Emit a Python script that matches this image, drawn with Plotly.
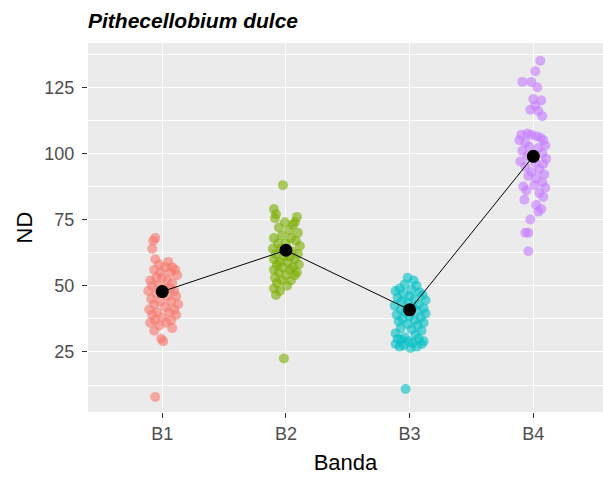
import plotly.graph_objects as go

categories = ["B1", "B2", "B3", "B4"]
colors = ["#F8766D", "#7CAE00", "#00BFC4", "#C77CFF"]

# jitter (horizontal offsets, in 1/124 of a category step) and ND values per band
b1_jit = [-7, -9, -10, -7, 6, -3, 10, 13, 3, -8, -2, 8, 15, -12, -6, 0, 5, 10, -10, -4, 2, 8, -14, 12, -6,
          5, 14, -11, -2, 9, 16, -8, 3, 12, -13, -5, 7, -10, 14, 0, -7, 9, -12, 4, -3, 10, -8, -1, 1, -7]
b1_nd = [68, 67, 64, 60, 59, 58, 57, 56, 57, 56, 55, 55, 54, 52, 53, 53, 52, 51, 50, 50, 49, 49, 48, 48, 47,
         46, 46, 45, 44, 44, 43, 43, 42, 41, 41, 40, 40, 39, 39, 38, 37, 37, 36, 36, 35, 34, 33, 30, 29, 8]

b2_jit = [-3, -12, -10, -11, 11, 9, -1, 7, -7, 3, 12, -12, -4, 5, 10, -8, 0, 14, -13, -5, 6, 12, -10, -2,
          4, 9, -12, -6, 2, 13, -9, 7, -3, -12, 4, 11, -7, 0, 9, -11, -4, 5, -9, 1, -12, -6, -10, -2]
b2_nd = [88, 79, 77, 75.5, 76, 74, 74, 73, 72, 71, 70, 68, 69, 68, 67, 66, 66, 65, 64, 64, 63, 62, 62, 61,
         61, 60, 60, 59, 59, 58, 58, 57, 57, 56, 56, 55, 55, 54, 54, 53, 52, 52, 51, 50, 49, 48, 46.5, 22.5]

b3_jit = [-2, 4, -5, 7, -10, 2, -14, 10, -6, 13, 0, -12, 5, 16, -8, -2, 9, -15, 3, 14, -9, 7, -4, 16, -13,
          0, 11, -7, 5, -11, 14, -2, 8, -9, 2, 12, -14, 6, -5, -12, -8, -1, 3, 9, 12, -14, -6, 7, -10, 1, 14, -4]
b3_nd = [53, 52, 50.5, 50, 49, 48.5, 48, 47.5, 47, 46.5, 46, 45.5, 45, 44.5, 44, 43.5, 43, 42.5, 42, 41.5,
         41, 40.5, 40, 39.5, 39, 38.5, 38, 37.5, 37, 36.5, 36, 35.5, 35, 34, 33.5, 33, 32, 31.5, 30.5, 30,
         29.5, 29, 28.5, 30, 28, 28, 27.5, 27, 27, 26.5, 29, 11]

b4_jit = [7, 2, -11, -2, 4, 0, 8, 2, -3, 5, 9, -12, -6, -2, 3, 7, 10, -14, -8, 12, -4, 5, -11, 9, -6, 13,
          -13, 2, 10, -8, 6, -2, 11, -5, 3, 9, -10, 1, 12, -7, 6, 10, -9, 3, 8, 5, -3, -5, -8, -5]
b4_nd = [135, 131, 127, 127, 125, 120.5, 120, 118, 116.5, 116, 114, 107, 107.5, 107, 106.5, 106, 105, 105,
         104, 103, 102.5, 102, 101, 100, 99, 98, 97, 96.5, 96, 95, 94, 93, 92, 91.5, 90.5, 89, 87.5, 88, 87,
         86, 85, 83.5, 82.5, 80.5, 79, 78, 75, 70, 70, 63]

means = [47.8, 63.4, 40.9, 98.9]

jits = [b1_jit, b2_jit, b3_jit, b4_jit]
vals = [b1_nd, b2_nd, b3_nd, b4_nd]
STEP = 124.0

fig = go.Figure()
for i, (cat, jit, v) in enumerate(zip(categories, jits, vals)):
    fig.add_trace(go.Scatter(
        x=[i + 1 + j / STEP for j in jit], y=v, mode="markers", name=cat,
        marker=dict(color=colors[i], size=10, opacity=0.6, line=dict(width=0)),
        showlegend=False, hoverinfo="y"))

fig.add_trace(go.Scatter(
    x=[1, 2, 3, 4], y=means, mode="lines+markers",
    line=dict(color="black", width=1),
    marker=dict(color="black", size=13, symbol="circle"),
    showlegend=False))

fig.update_layout(
    width=603, height=478,
    margin=dict(l=88, r=0, t=43, b=66),
    paper_bgcolor="white", plot_bgcolor="#EBEBEB",
    font=dict(family="Liberation Sans, Arial, sans-serif"),
    title=dict(text="Pithecellobium dulce", x=88 / 603, xref="container", xanchor="left",
               y=1 - 21 / 478, yref="container", yanchor="middle",
               font=dict(size=21, color="black", weight="bold", style="italic")),
    xaxis=dict(range=[0.4, 0.4 + 515 / 123.7], tickvals=[1, 2, 3, 4], ticktext=categories,
               showgrid=True, gridcolor="white", gridwidth=1.3, zeroline=False,
               ticks="outside", ticklen=5, tickcolor="#333333", tickwidth=1.2,
               tickfont=dict(size=18, color="#4D4D4D"),
               title=dict(text="Banda", font=dict(size=22, color="black"), standoff=12)),
    yaxis=dict(range=[2.3, 141.7], tickvals=[25, 50, 75, 100, 125],
               showgrid=True, gridcolor="white", gridwidth=1.3, zeroline=False,
               ticks="outside", ticklen=5, tickcolor="#333333", tickwidth=1.2,
               tickfont=dict(size=18, color="#4D4D4D"), ticklabelstandoff=4,
               minor=dict(tickvals=[12.5, 37.5, 62.5, 87.5, 112.5, 137.5], showgrid=True,
                          gridcolor="white", gridwidth=0.6, ticks=""),
               title=dict(text="ND", font=dict(size=22, color="black"), standoff=5)),
)

fig.write_html("out.html")
